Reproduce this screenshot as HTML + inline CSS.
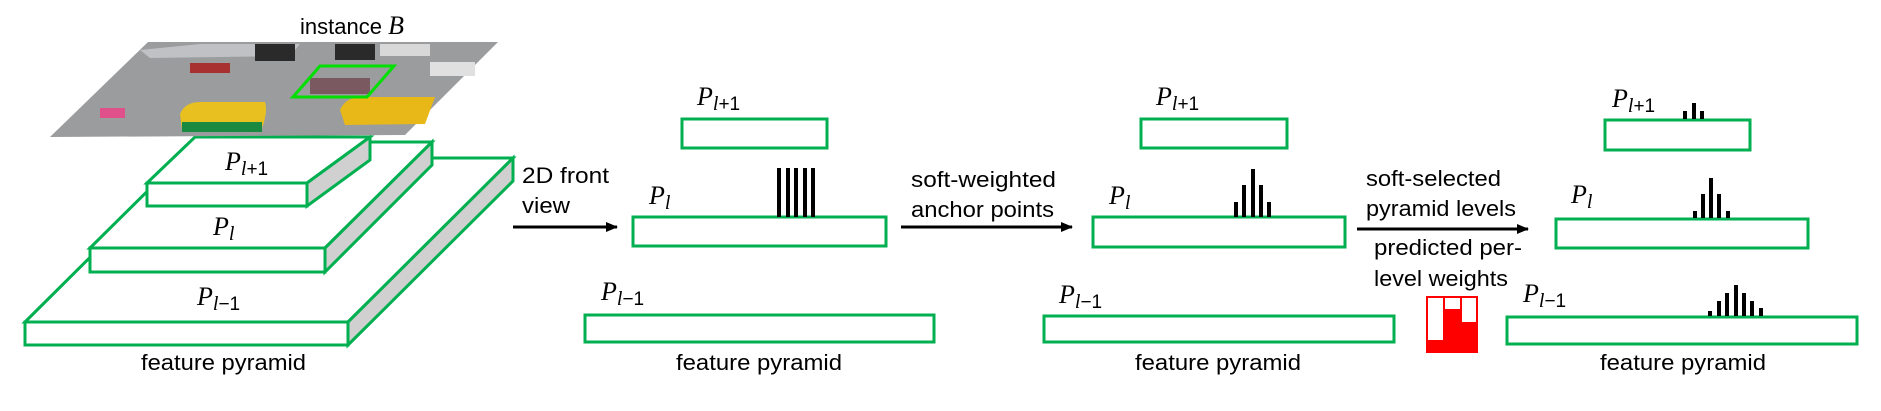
<!DOCTYPE html>
<html><head><meta charset="utf-8"><style>
html,body{margin:0;padding:0;background:#fff;}
svg{display:block;}
.t{font-family:"Liberation Sans",sans-serif;font-size:22px;fill:#000;}
.p{font-family:"Liberation Serif",serif;font-style:italic;font-size:26px;fill:#000;}
.s{font-family:"Liberation Sans",sans-serif;font-style:normal;font-size:19px;}
.si{font-family:"Liberation Serif",serif;font-style:italic;font-size:20px;}
.g{fill:#fff;stroke:#00b050;stroke-width:3;}
.gs{fill:#d0d0d0;stroke:#00b050;stroke-width:3;}
</style></head><body>
<svg width="1881" height="411" viewBox="0 0 1881 411" xmlns="http://www.w3.org/2000/svg">
<defs><marker id="ah" markerWidth="12" markerHeight="10" refX="11" refY="5" orient="auto" markerUnits="userSpaceOnUse"><path d="M0,0 L12,5 L0,10 z" fill="#000"/></marker></defs>

<!-- left pyramid bottom slab -->
<polygon class="g" points="25,322 190,158 513,158 348,322"/>
<polygon class="gs" points="348,322 513,158 513,181 348,345"/>
<rect class="g" x="25" y="322" width="323" height="23"/>
<!-- middle slab -->
<polygon class="g" points="90,248 197,142 432,142 325,248"/>
<polygon class="gs" points="325,248 432,142 432,165 325,272"/>
<rect class="g" x="90" y="248" width="235" height="24"/>
<!-- top slab -->
<polygon class="g" points="147,183 195,137 370,137 307,183"/>
<polygon class="gs" points="307,183 370,137 370,160 307,206"/>
<rect class="g" x="147" y="183" width="160" height="23"/>

<!-- image -->
<polygon points="50,137 148,42 498,42 405,135" fill="#9a9c9e"/>
<polygon points="140,50 200,44 300,44 290,56 150,58" fill="#bfc1c4"/>
<rect x="255" y="44" width="40" height="17" fill="#2a2a2a"/>
<rect x="335" y="44" width="40" height="16" fill="#2a2a2a"/>
<rect x="380" y="44" width="50" height="12" fill="#d8d8d8"/>
<rect x="190" y="63" width="40" height="10" fill="#a83030"/>
<rect x="430" y="62" width="45" height="14" fill="#e0e0e0"/>
<rect x="100" y="108" width="25" height="10" fill="#e0508a"/>
<path d="M180,114 Q185,102 200,102 L265,102 Q268,112 262,128 L182,130 Z" fill="#e8c020"/>
<rect x="182" y="122" width="80" height="10" fill="#1a8a40"/>
<path d="M340,110 Q345,98 360,97 L435,97 L425,124 L345,125 Z" fill="#e8b818"/>
<rect x="310" y="78" width="60" height="16" fill="#7a5a60"/>
<polygon points="320,66 394,66 367,97 293,97" fill="none" stroke="#00e000" stroke-width="3"/>
<text class="t" x="300" y="34">instance <tspan class="p" font-size="24">B</tspan></text>

<text class="p" x="225" y="170">P<tspan class="si" dy="5">l</tspan><tspan class="s">+1</tspan></text>
<text class="p" x="213" y="235">P<tspan class="si" dy="5">l</tspan></text>
<text class="p" x="197" y="305">P<tspan class="si" dy="5">l</tspan><tspan class="s">−1</tspan></text>
<text class="t" x="141" y="370" textLength="165" lengthAdjust="spacingAndGlyphs">feature pyramid</text>

<!-- arrow 1 -->
<line x1="513" y1="227" x2="617" y2="227" stroke="#000" stroke-width="3" marker-end="url(#ah)"/>
<text class="t" x="522" y="183" textLength="87" lengthAdjust="spacingAndGlyphs">2D front</text>
<text class="t" x="522" y="213" textLength="48" lengthAdjust="spacingAndGlyphs">view</text>

<!-- column 2 -->
<rect class="g" x="682" y="119" width="145" height="29"/>
<rect class="g" x="633" y="217" width="253" height="29"/>
<rect class="g" x="585" y="315" width="349" height="27"/>
<text class="p" x="697" y="105">P<tspan class="si" dy="5">l</tspan><tspan class="s">+1</tspan></text>
<text class="p" x="649" y="204">P<tspan class="si" dy="5">l</tspan></text>
<text class="p" x="601" y="300">P<tspan class="si" dy="5">l</tspan><tspan class="s">−1</tspan></text>
<g fill="#000"><rect x="777" y="168" width="4" height="49"/><rect x="786" y="168" width="4" height="49"/><rect x="794" y="168" width="4" height="49"/><rect x="803" y="168" width="4" height="49"/><rect x="811" y="168" width="4" height="49"/></g>
<text class="t" x="676" y="370" textLength="166" lengthAdjust="spacingAndGlyphs">feature pyramid</text>

<!-- arrow 2 -->
<line x1="901" y1="227" x2="1072" y2="227" stroke="#000" stroke-width="3" marker-end="url(#ah)"/>
<text class="t" x="911" y="187" textLength="145" lengthAdjust="spacingAndGlyphs">soft-weighted</text>
<text class="t" x="911" y="217" textLength="143" lengthAdjust="spacingAndGlyphs">anchor points</text>

<!-- column 3 -->
<rect class="g" x="1141" y="119" width="146" height="29"/>
<rect class="g" x="1093" y="217" width="252" height="30"/>
<rect class="g" x="1044" y="316" width="350" height="26"/>
<text class="p" x="1156" y="105">P<tspan class="si" dy="5">l</tspan><tspan class="s">+1</tspan></text>
<text class="p" x="1109" y="204">P<tspan class="si" dy="5">l</tspan></text>
<text class="p" x="1059" y="303">P<tspan class="si" dy="5">l</tspan><tspan class="s">−1</tspan></text>
<g fill="#000"><rect x="1234" y="202" width="4" height="15"/><rect x="1242" y="185" width="4" height="32"/><rect x="1251" y="169" width="4" height="48"/><rect x="1259" y="185" width="4" height="32"/><rect x="1267" y="202" width="4" height="15"/></g>
<text class="t" x="1135" y="370" textLength="166" lengthAdjust="spacingAndGlyphs">feature pyramid</text>

<!-- arrow 3 -->
<line x1="1357" y1="229" x2="1528" y2="229" stroke="#000" stroke-width="3" marker-end="url(#ah)"/>
<text class="t" x="1366" y="186" textLength="135" lengthAdjust="spacingAndGlyphs">soft-selected</text>
<text class="t" x="1366" y="216" textLength="150" lengthAdjust="spacingAndGlyphs">pyramid levels</text>
<text class="t" x="1374" y="255" textLength="148" lengthAdjust="spacingAndGlyphs">predicted per-</text>
<text class="t" x="1374" y="286" textLength="134" lengthAdjust="spacingAndGlyphs">level weights</text>
<rect x="1426" y="296" width="52" height="57" fill="#ff0000"/>
<rect x="1428" y="298" width="15" height="42" fill="#fff"/>
<rect x="1445" y="298" width="15" height="11" fill="#fff"/>
<rect x="1462" y="298" width="14" height="24" fill="#fff"/>

<!-- column 4 -->
<rect class="g" x="1605" y="120" width="145" height="30"/>
<rect class="g" x="1556" y="219" width="252" height="29"/>
<rect class="g" x="1507" y="317" width="350" height="27"/>
<text class="p" x="1612" y="107">P<tspan class="si" dy="5">l</tspan><tspan class="s">+1</tspan></text>
<text class="p" x="1571" y="203">P<tspan class="si" dy="5">l</tspan></text>
<text class="p" x="1523" y="302">P<tspan class="si" dy="5">l</tspan><tspan class="s">−1</tspan></text>
<g fill="#000">
<rect x="1683" y="111" width="4" height="8"/><rect x="1692" y="103" width="4" height="16"/><rect x="1700" y="111" width="4" height="8"/>
<rect x="1693" y="211" width="4" height="7"/><rect x="1701" y="194" width="4" height="24"/><rect x="1709" y="178" width="4" height="40"/><rect x="1717" y="194" width="4" height="24"/><rect x="1726" y="211" width="4" height="7"/>
<rect x="1708" y="311" width="4" height="5"/><rect x="1717" y="301" width="4" height="15"/><rect x="1725" y="293" width="4" height="23"/><rect x="1734" y="285" width="4" height="31"/><rect x="1742" y="293" width="4" height="23"/><rect x="1750" y="301" width="4" height="15"/><rect x="1759" y="308" width="4" height="8"/>
</g>
<text class="t" x="1600" y="370" textLength="166" lengthAdjust="spacingAndGlyphs">feature pyramid</text>
</svg>
</body></html>
